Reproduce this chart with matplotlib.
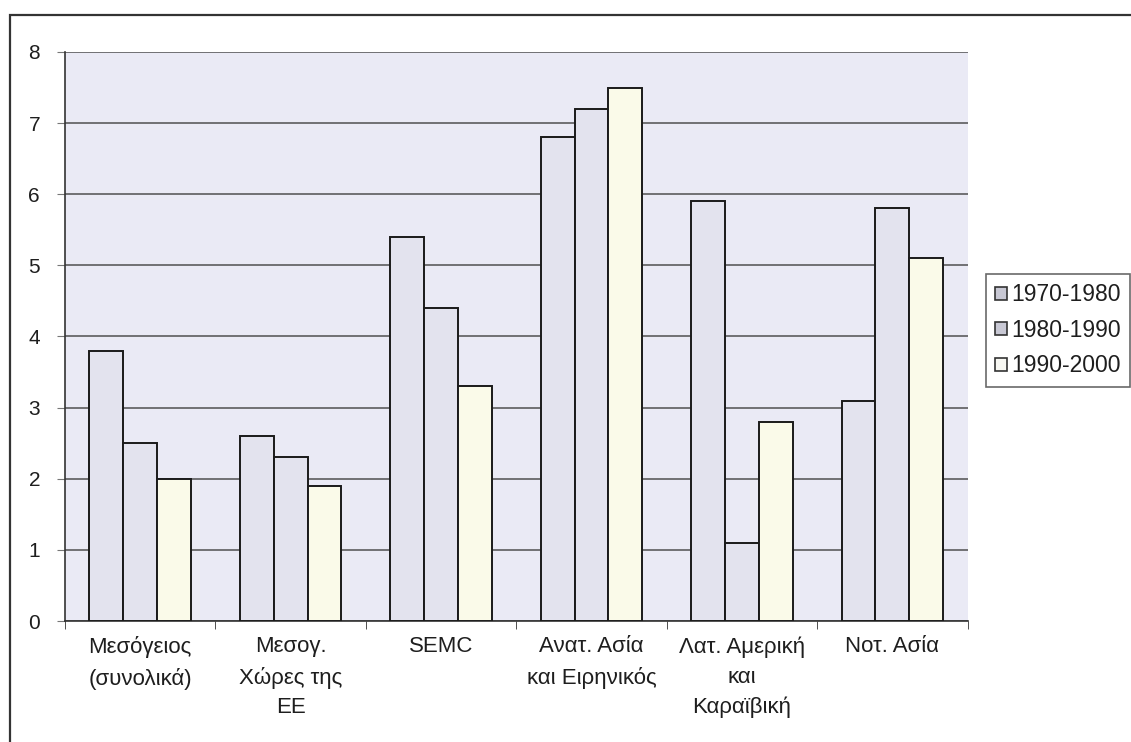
import matplotlib
matplotlib.use("Agg")
import matplotlib.pyplot as plt
import numpy as np
from matplotlib.patches import Rectangle

categories = ["Μεσόγειος\n(συνολικά)", "Μεσογ.\nΧώρες της\nΕΕ", "SEMC",
              "Ανατ. Ασία\nκαι Ειρηνικός", "Λατ. Αμερική\nκαι\nΚαραϊβική", "Νοτ. Ασία"]
series_names = ["1970-1980", "1980-1990", "1990-2000"]
v1970 = [3.8, 2.6, 5.4, 6.8, 5.9, 3.1]
v1980 = [2.5, 2.3, 4.4, 7.2, 1.1, 5.8]
v1990 = [2.0, 1.9, 3.3, 7.5, 2.8, 5.1]
yticks = [0, 1, 2, 3, 4, 5, 6, 7, 8]

plt.rcParams['font.family'] = ['Liberation Sans', 'DejaVu Sans']
plt.rcParams['text.color'] = '#1e1e1e'

fig = plt.figure(figsize=(11.31, 7.42), dpi=100)
fig.patch.set_facecolor('white')
ax = fig.add_axes([0.0575, 0.163, 0.798, 0.767])
ax.set_facecolor('#eaeaf5')

colors = ['#e3e3ee', '#e3e3ee', '#fafae9']
x = np.arange(len(categories))
w = 0.225
for i, (vals, c, name) in enumerate(zip([v1970, v1980, v1990], colors, series_names)):
    ax.bar(x + (i - 1) * w, vals, width=w, color=c, edgecolor='#1a1a1a',
           linewidth=1.4, label=name, zorder=3)

ax.set_xlim(-0.5, len(categories) - 0.5)
ax.set_ylim(0, 8)
ax.set_yticks(yticks)
ax.set_yticklabels([str(t) for t in yticks], fontsize=15, color='#1e1e1e')
ax.yaxis.grid(True, color='#505050', linewidth=1.1, zorder=1)
ax.set_axisbelow(True)

ax.set_xticks(x)
ax.set_xticklabels(categories, fontsize=16, linespacing=1.55, color='#1e1e1e')
ax.tick_params(axis='x', length=0, pad=11)
ax.set_xticks(np.arange(-0.5, len(categories) + 0.5, 1), minor=True)
ax.tick_params(axis='x', which='minor', length=6, color='#333333')
ax.tick_params(axis='y', length=6, color='#777777', pad=12)

for s in ['top', 'right']:
    ax.spines[s].set_visible(False)
ax.spines['left'].set_color('#333333')
ax.spines['bottom'].set_color('#333333')
ax.spines['left'].set_linewidth(1.2)
ax.spines['bottom'].set_linewidth(1.2)

leg = fig.legend(*ax.get_legend_handles_labels(), loc='upper left',
                 bbox_to_anchor=(986 / 1131, 1 - 274 / 742), bbox_transform=fig.transFigure,
                 fontsize=16.5, frameon=True, fancybox=False, edgecolor='#444444',
                 handlelength=0.5, handleheight=0.5, handletextpad=0.2,
                 labelspacing=0.55, borderpad=0.4, borderaxespad=0)
leg.get_frame().set_linewidth(1.2)
for h, fc in zip(leg.legend_handles, ['#c8c8d4', '#c8c8d4', '#f7f7f2']):
    h.set_facecolor(fc)
    h.set_edgecolor('#333333')
    h.set_linewidth(1.2)

fig.patches.append(Rectangle((10 / 1131, -0.2), 1.2, 1.2 - 15 / 742, transform=fig.transFigure,
                             fill=False, edgecolor='#333333', linewidth=1.6))

fig.savefig('out.png', dpi=100)
